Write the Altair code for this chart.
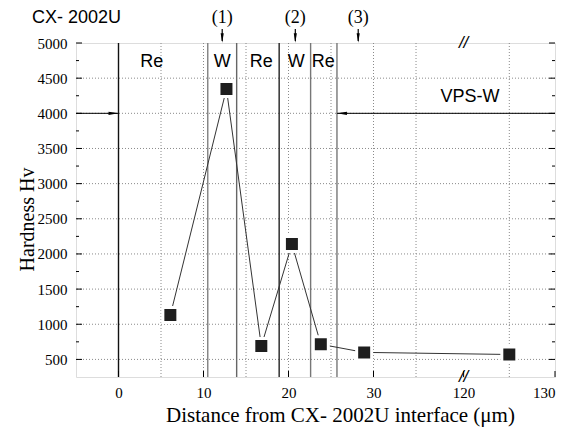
import altair as alt
import pandas as pd

# ---- data ----
distance_um = [6.1, 12.7, 16.8, 20.4, 23.8, 28.9, 125.0]
hardness_hv = [1130, 4345, 690, 2140, 715, 600, 570]

boundaries = [0.0, 10.5, 13.9, 18.9, 22.6, 25.7]
boundary_colors = ["#111111", "#808080", "#666666", "#222222", "#777777", "#777777"]

region_labels = ["Re", "W", "Re", "W", "Re"]
region_x = [3.9, 12.2, 16.8, 20.9, 24.1]
region_y = [4730, 4730, 4730, 4730, 4730]

marker_labels = ["(1)", "(2)", "(3)"]
marker_x = [12.2, 20.8, 28.2]

x_tick_values = [0, 10, 20, 30, 120, 130]
x_tick_labels = ["0", "10", "20", "30", "120", "130"]
x_grid_values = [0, 5, 10, 15, 20, 25, 30, 35, 125]
y_tick_values = [500, 1000, 1500, 2000, 2500, 3000, 3500, 4000, 4500, 5000]
y_minor_values = [750, 1250, 1750, 2250, 2750, 3250, 3750, 4250, 4750]
y_grid_values = [500, 1000, 1500, 2000, 2500, 3000, 3500, 4000, 4500]

# ---- broken x axis transform ----
BREAK_AT = 40.6      # left segment ends here
RIGHT_START = 120.0
RSCALE = 1.075


def tx(v):
    return v if v <= BREAK_AT else BREAK_AT + (v - RIGHT_START) * RSCALE


XMIN, XMAX = -5.0, tx(130)
YMIN, YMAX = 250, 5000
W, H = 479, 334

xs = alt.Scale(domain=[XMIN, XMAX], nice=False, zero=False)
ys = alt.Scale(domain=[YMIN, YMAX], nice=False, zero=False)

SERIF = "Liberation Serif"
SANS = "Liberation Sans"

pts = pd.DataFrame({"x": [tx(v) for v in distance_um], "y": hardness_hv, "order": range(len(hardness_hv))})

label_expr = " : ".join(
    f"abs(datum.value - {tx(v)}) < 0.01 ? '{lab}'" for v, lab in zip(x_tick_values, x_tick_labels)
) + " : ''"

XAX = alt.Axis(
    values=[tx(v) for v in x_tick_values], labelExpr=label_expr, ticks=False, grid=False,
    domain=False, labelFont=SERIF, labelFontSize=15, labelColor="black", labelPadding=8,
    title="Distance from CX- 2002U interface (μm)", titleFont=SERIF, titleFontSize=21,
    titleFontWeight="normal", titleColor="black", titlePadding=4, titleX=264)
YAX = alt.Axis(
    values=y_tick_values, format="d", ticks=False, grid=False, domain=False, labelFont=SERIF,
    labelFontSize=15, labelColor="black", labelPadding=9, title="Hardness Hv",
    titleFont=SERIF, titleFontSize=20, titleFontWeight="normal", titleColor="black",
    titlePadding=0, titleY=176)


def X(f="x:Q"):
    return alt.X(f, scale=xs, axis=XAX)


def Y(f="y:Q"):
    return alt.Y(f, scale=ys, axis=YAX)


# grid
gx = alt.Chart(pd.DataFrame({"x": [tx(v) for v in x_grid_values]})).mark_rule(
    color="#8a8a8a", strokeDash=[1, 2], strokeWidth=1
).encode(x=X())
gy = alt.Chart(pd.DataFrame({"y": y_grid_values})).mark_rule(
    color="#8a8a8a", strokeDash=[1, 2], strokeWidth=1
).encode(y=Y())

# boundaries
bnd = alt.Chart(pd.DataFrame({"x": boundaries, "c": boundary_colors})).mark_rule(strokeWidth=1.4).encode(
    x=X(), color=alt.Color("c:N", scale=None)
)

# inward ticks
ytick_l = alt.Chart(pd.DataFrame({"y": y_tick_values})).mark_rule(color="black").encode(
    y=Y(), x=alt.value(0), x2=alt.value(6))
ytick_r = alt.Chart(pd.DataFrame({"y": y_tick_values})).mark_rule(color="black").encode(
    y=Y(), x=alt.value(W - 6), x2=alt.value(W))
ymin_l = alt.Chart(pd.DataFrame({"y": y_minor_values})).mark_rule(color="black").encode(
    y=Y(), x=alt.value(0), x2=alt.value(3))
ymin_r = alt.Chart(pd.DataFrame({"y": y_minor_values})).mark_rule(color="black").encode(
    y=Y(), x=alt.value(W - 3), x2=alt.value(W))
xtick_b = alt.Chart(pd.DataFrame({"x": [tx(v) for v in x_tick_values]})).mark_rule(color="black").encode(
    x=X(), y=alt.value(H - 6), y2=alt.value(H))

# data line + squares
line = alt.Chart(pts).mark_line(color="#333333", strokeWidth=1).encode(
    x=X(), y=Y(), order="order:Q",
)
squares = alt.Chart(pts).mark_point(
    shape="square", filled=True, size=225, color="#1e1e1e", stroke="white", strokeWidth=3, opacity=1
).encode(x=X(), y=Y())

# region labels
reg = alt.Chart(pd.DataFrame({"x": region_x, "y": region_y, "t": region_labels})).mark_text(
    font=SANS, fontSize=18, color="black", baseline="middle"
).encode(x=X(), y=Y(), text="t:N")
vps = alt.Chart(pd.DataFrame({"x": [tx(120.7)], "y": [4235], "t": ["VPS-W"]})).mark_text(
    font=SANS, fontSize=18, color="black", baseline="middle"
).encode(x=X(), y=Y(), text="t:N")

# horizontal arrows at 4000
harr = pd.DataFrame({"x": [XMIN, tx(130)], "x2": [0.0, 25.7], "y": [4000, 4000]})
hline = alt.Chart(harr).mark_rule(color="black", strokeWidth=1).encode(
    x=X(), x2="x2:Q", y=Y())
head_r = alt.Chart(pd.DataFrame({"x": [0.0], "y": [4000]})).mark_point(
    shape="M -1 -0.33 L 1 0 L -1 0.33 Z", filled=True, size=100, color="black", opacity=1, xOffset=-5
).encode(x=X(), y=Y())
head_l = alt.Chart(pd.DataFrame({"x": [25.7], "y": [4000]})).mark_point(
    shape="M 1 -0.33 L -1 0 L 1 0.33 Z", filled=True, size=100, color="black", opacity=1, xOffset=5
).encode(x=X(), y=Y())

# top markers (1)(2)(3)
mk = pd.DataFrame({"x": marker_x, "t": marker_labels, "y": [YMAX] * 3})
mk_rule = alt.Chart(mk).mark_rule(color="black", strokeWidth=1.2).encode(
    x=X(), y=alt.value(-14), y2=alt.value(-2))
mk_head = alt.Chart(mk).mark_point(
    shape="M -0.33 -1 L 0 1 L 0.33 -1 Z", filled=True, size=90, color="black", opacity=1, yOffset=-5
).encode(x=X(), y=Y())
mk_text = alt.Chart(mk).mark_text(font=SERIF, fontSize=18, color="black", baseline="middle").encode(
    x=X(), y=alt.value(-25), text="t:N")

# axis break marks
brk = alt.Chart(pd.DataFrame({"x": [BREAK_AT, BREAK_AT], "y": [YMAX, YMIN], "t": ["//", "//"]})).mark_text(
    font=SANS, fontSize=17, fontStyle="italic", color="black", baseline="middle"
).encode(x=X(), y=Y(), text="t:N")

# top-left title
ttl = alt.Chart(pd.DataFrame({"t": ["CX- 2002U"]})).mark_text(
    font=SANS, fontSize=18, color="black", align="left", baseline="middle"
).encode(x=alt.value(-44), y=alt.value(-25), text="t:N")

chart = alt.layer(
    gx, gy, bnd, ytick_l, ytick_r, ymin_l, ymin_r, xtick_b,
    line, squares, reg, vps, hline, head_r, head_l,
    mk_rule, mk_head, mk_text, brk, ttl,
).properties(
    width=W, height=H,
    autosize="none",
    padding={"left": 68, "top": 35, "right": 4, "bottom": 50},
).configure_view(stroke="black", strokeWidth=1.5).configure(background="white")

chart.save("out.html", embed_options={"renderer": "svg", "actions": False})
